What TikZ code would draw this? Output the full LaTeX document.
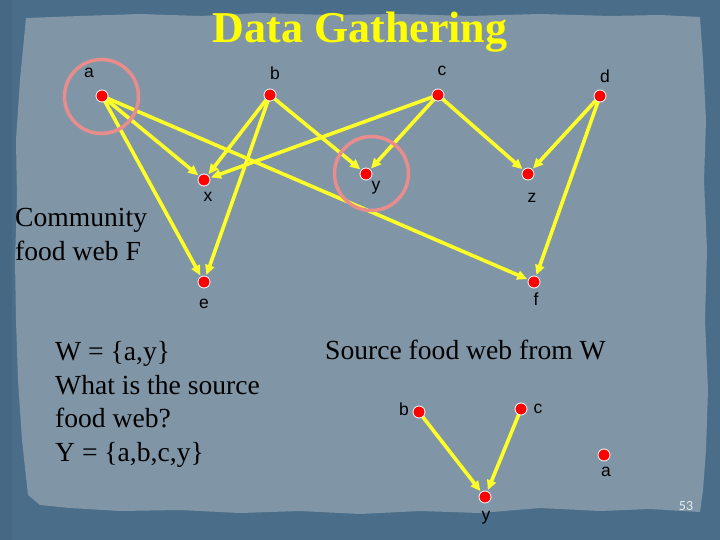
\documentclass[tikz,border=0pt]{standalone}
\usepackage{fontspec}
\setmainfont{Liberation Serif}
\newfontfamily\lblfont{Liberation Sans}
\newfontfamily\numfont{Carlito}
\usetikzlibrary{arrows.meta}
\definecolor{outerblue}{RGB}{74,110,137}
\definecolor{paper}{RGB}{128,150,167}
\definecolor{ringpink}{RGB}{232,140,140}
\definecolor{titleyellow}{RGB}{255,255,0}
\definecolor{edgeyellow}{RGB}{255,255,40}
\definecolor{pagenum}{RGB}{225,235,242}
\pgfdeclarelayer{bg}
\pgfdeclarelayer{edges}
\pgfsetlayers{bg,edges,main}
\tikzset{
  dot/.style={circle,fill=red,draw=white,line width=0.8pt,inner sep=0pt,minimum size=12pt},
  lbl/.style={font=\lblfont\fontsize{17.5}{17.5}\selectfont,text=black,inner sep=0pt},
  bodytext/.style={font=\fontsize{27.6}{33.5}\selectfont,text=black,align=left,inner sep=0pt,anchor=base west},
  feed/.style={draw=edgeyellow,line width=3.6pt,-{Triangle[length=10pt,width=9pt]},shorten >=1pt},
  ring/.style={draw=ringpink,line width=3.5pt,circle,minimum size=74pt,inner sep=0pt}
}
\begin{document}
\begin{tikzpicture}[x=1pt,y=-1pt]
\useasboundingbox (0,0) rectangle (720,540);
\begin{pgfonlayer}{bg}
  \fill[outerblue] (0,0) rectangle (720,540);
  \fill[outerblue!85!black,opacity=0.35] (0,0) rectangle (12,540);
  \fill[paper] (26,18) -- (80,16) -- (140,14) -- (200,16) -- (260,13) -- (330,15) -- (400,14) -- (470,16) -- (540,14) -- (610,16) -- (660,15) -- (700,17)
    -- (703,60) -- (706,120) -- (704,180) -- (707,250) -- (705,320) -- (708,390) -- (706,450) -- (703,490) -- (700,512)
    -- (650,509) -- (600,511) -- (540,508) -- (480,513) -- (420,511) -- (360,514) -- (300,511) -- (240,513) -- (180,510) -- (120,511) -- (70,508) -- (40,505) -- (28,495)
    -- (22,440) -- (18,380) -- (16,320) -- (15,260) -- (17,200) -- (16,140) -- (20,80) -- cycle;
\end{pgfonlayer}

% title
\node[font=\fontsize{44}{44}\selectfont\bfseries,text=titleyellow,inner sep=0pt,anchor=base] (title) at (360,43) {Data Gathering};

% community food web F
\node[dot] (a) at (102,96) {};
\node[dot] (b) at (270,95) {};
\node[dot] (c) at (438,95) {};
\node[dot] (d) at (600,96) {};
\node[dot] (x) at (204,180) {};
\node[dot] (y) at (366,174) {};
\node[dot] (z) at (528,174) {};
\node[dot] (e) at (204,282) {};
\node[dot] (f) at (534,282) {};

\node[lbl] (la) at (89,73) {a};
\node[lbl] (lb) at (275,73) {b};
\node[lbl] (lc) at (442,71) {c};
\node[lbl] (ld) at (605,76) {d};
\node[lbl] (lx) at (208,197) {x};
\node[lbl] (ly) at (376,188) {y};
\node[lbl] (lz) at (532,198) {z};
\node[lbl] (le) at (204,304) {e};
\node[lbl] (lf) at (536,299) {f};

\node[ring] (ra) at (101.5,96.5) {};
\node[ring] (ry) at (371.5,173.5) {};

\begin{pgfonlayer}{edges}
  \draw[feed] (a.center) -- (x);
  \draw[feed] (a.center) -- (e);
  \draw[feed] (a.center) -- (f);
  \draw[feed] (b.center) -- (x);
  \draw[feed] (b.center) -- (e);
  \draw[feed] (b.center) -- (y);
  \draw[feed] (c.center) -- (x);
  \draw[feed] (c.center) -- (y);
  \draw[feed] (c.center) -- (z);
  \draw[feed] (d.center) -- (z);
  \draw[feed] (d.center) -- (f);
\end{pgfonlayer}

\node[bodytext] (comm) at (15,260) {Community\\food web F};
\node[bodytext] (wtext) at (55,461) {W = \{a,y\}\\What is the source\\food web?\\Y = \{a,b,c,y\}};
\node[bodytext] (stext) at (325,359) {Source food web from W};

% source food web
\node[dot] (sb) at (419,412) {};
\node[dot] (sc) at (521,409) {};
\node[dot] (sa) at (604,455) {};
\node[dot] (sy) at (485,497) {};
\node[lbl] (lsb) at (404,409) {b};
\node[lbl] (lsc) at (538,409) {c};
\node[lbl] (lsa) at (606,472) {a};
\node[lbl] (lsy) at (486,518) {y};
\begin{pgfonlayer}{edges}
  \draw[feed] (sb.center) -- (sy);
  \draw[feed] (sc.center) -- (sy);
\end{pgfonlayer}

\node[font=\numfont\fontsize{14}{14}\selectfont,text=pagenum,inner sep=0pt] (pg) at (686,506) {53};
\end{tikzpicture}
\end{document}
